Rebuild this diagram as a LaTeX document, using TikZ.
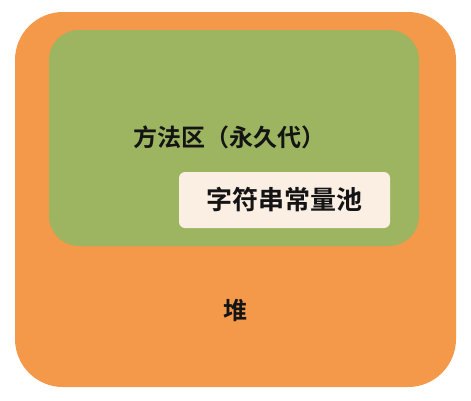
\documentclass[tikz,border=0pt]{standalone}
\usepackage{fontspec}
\usepackage{tikz}
\usetikzlibrary{positioning}
\newfontfamily\cjk{Noto Sans CJK SC}[BoldFont={Noto Sans CJK SC Bold}]
\definecolor{heaporange}{HTML}{F4984A}
\definecolor{methodgreen}{HTML}{9DB560}
\definecolor{poolcream}{HTML}{FBEEE3}

\begin{document}
\begin{tikzpicture}[x=1pt,y=-1pt,
        region/.style={rectangle, draw=none, inner sep=0pt},
        label/.style={font=\cjk\bfseries\fontsize{24}{24}\selectfont, text=black!92}]
        \useasboundingbox (0,0) rectangle (471,400);
        \node[region, fill=heaporange, rounded corners=48pt, minimum width=441pt, minimum height=375pt] (heap) at (235.5,199.5) {};
        \node[region, fill=methodgreen, rounded corners=30pt, minimum width=370pt, minimum height=216pt] (method) at (234,138) {};
        \node[region, fill=poolcream, rounded corners=6pt, minimum width=211pt, minimum height=56pt] (pool) at (284.5,200) {};

        \node[label] (methodtext) at (229,137) {方法区（永久代）};
        \node[label, font=\cjk\bfseries\fontsize{26}{26}\selectfont] (pooltext) at (284,200) {字符串常量池};
        \node[label] (heaptext) at (235,310) {堆};
    \end{tikzpicture}
\end{document}
